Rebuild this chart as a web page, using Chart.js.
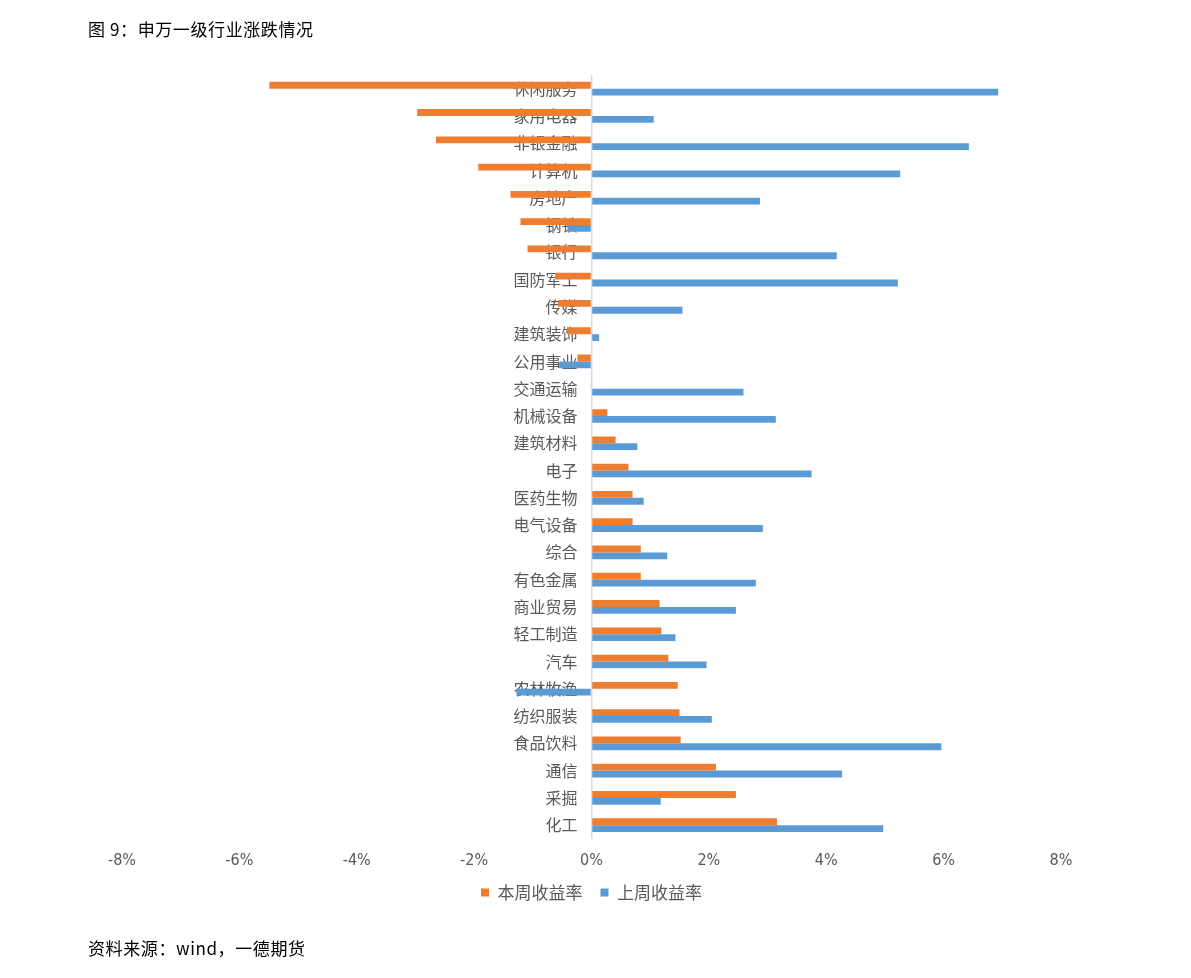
<!DOCTYPE html>
<html>
<head>
<meta charset="utf-8">
<script src="https://cdn.jsdelivr.net/npm/chart.js@4.4.1/dist/chart.umd.min.js"></script>
<style>
  html, body { margin: 0; padding: 0; background: #ffffff; }
  body { width: 1191px; height: 978px; position: relative; overflow: hidden; }
  #wrap { position: absolute; left: 0; top: 0; width: 1191px; height: 978px; }
  .note { position: absolute; left: 88px; font-family: "Noto Sans CJK SC", sans-serif; font-size: 17px; color: #000; white-space: nowrap; }
  #title { top: 16px; letter-spacing: 0.6px; }
  #source { top: 935px; letter-spacing: 0.6px; }
</style>
</head>
<body>
<div id="wrap"><canvas id="c" width="1191" height="978"></canvas></div>
<div class="note" id="title">图 9：申万一级行业涨跌情况</div>
<div class="note" id="source">资料来源：wind，一德期货</div>
<script>
const categories = ["休闲服务","家用电器","非银金融","计算机","房地产","钢铁","银行","国防军工","传媒","建筑装饰","公用事业","交通运输","机械设备","建筑材料","电子","医药生物","电气设备","综合","有色金属","商业贸易","轻工制造","汽车","农林牧渔","纺织服装","食品饮料","通信","采掘","化工"];
const thisWeek = [-5.49,-2.97,-2.65,-1.93,-1.38,-1.21,-1.09,-0.62,-0.57,-0.42,-0.24,-0.01,0.27,0.41,0.63,0.70,0.70,0.84,0.84,1.16,1.19,1.31,1.47,1.50,1.52,2.12,2.46,3.16];
const lastWeek = [6.93,1.06,6.43,5.26,2.87,-0.41,4.18,5.22,1.55,0.13,-0.55,2.59,3.14,0.78,3.75,0.89,2.92,1.29,2.80,2.46,1.43,1.96,-1.28,2.05,5.96,4.27,1.18,4.97];
const xTicks = [-8,-6,-4,-2,0,2,4,6,8];
const seriesNames = ["本周收益率","上周收益率"];

const chart = new Chart(document.getElementById('c'), {
  type: 'bar',
  data: {
    labels: categories,
    datasets: [
      { label: seriesNames[0], data: thisWeek, backgroundColor: '#ED7D31', borderWidth: 0, categoryPercentage: 0.5, barPercentage: 1.0 },
      { label: seriesNames[1], data: lastWeek, backgroundColor: '#5B9BD5', borderWidth: 0, categoryPercentage: 0.5, barPercentage: 1.0 }
    ]
  },
  options: {
    indexAxis: 'y',
    responsive: false,
    animation: false,
    devicePixelRatio: 1,
    layout: { padding: { left: 122, right: 130, top: 75, bottom: 67 } },
    plugins: {
      tooltip: { enabled: false },
      legend: {
        position: 'bottom',
        labels: {
          boxWidth: 8, boxHeight: 8, padding: 18,
          color: '#595959',
          font: { family: '"Noto Sans CJK SC", sans-serif', size: 17 }
        }
      }
    },
    scales: {
      x: {
        type: 'linear',
        min: -8, max: 8,
        afterBuildTicks: (s) => { s.ticks = xTicks.map(v => ({ value: v })); },
        afterFit: (s) => { s.height -= 16; },
        grid: {
          display: true, drawTicks: false,
          color: (ctx) => (ctx.tick && ctx.tick.value === 0) ? '#D9D9D9' : 'rgba(0,0,0,0)',
          lineWidth: 1.5
        },
        border: { display: false },
        ticks: {
          padding: 12,
          color: '#595959',
          font: { family: '"DejaVu Sans Condensed", "Liberation Sans Narrow", sans-serif', size: 16 },
          callback: (v) => v + '%'
        }
      },
      y: {
        position: { x: -0.24 },
        z: 1,
        grid: { display: false, drawTicks: false },
        border: { display: false },
        ticks: {
          padding: 0,
          color: '#595959',
          font: { family: '"Noto Sans CJK SC", sans-serif', size: 16 },
          autoSkip: false
        }
      }
    }
  }
});
</script>
</body>
</html>
